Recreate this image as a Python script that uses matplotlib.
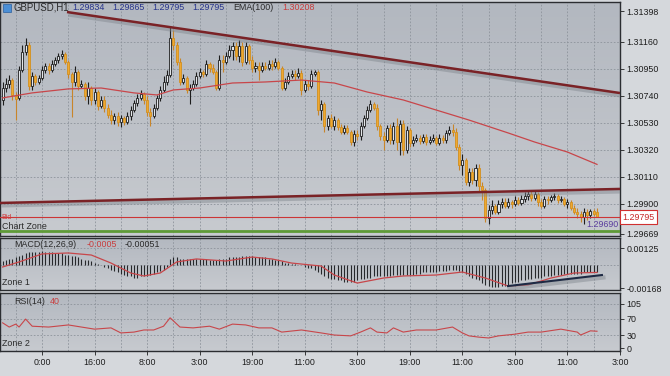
import matplotlib
matplotlib.use("Agg")
import matplotlib.pyplot as plt
import matplotlib.transforms as mtransforms
import numpy as np
from matplotlib.colors import LinearSegmentedColormap

plt.rcParams["font.family"] = ["Liberation Sans", "DejaVu Sans"]

# ---- candles (GBPUSD H1) ----
opens = [
    1.30709, 1.30802, 1.30833, 1.30864, 1.30740, 1.30725, 1.30942, 1.31082, 1.31137, 1.30818,
    1.30896, 1.30849, 1.30880, 1.30942, 1.30973, 1.30942, 1.30989, 1.31020, 1.31051, 1.31067,
    1.31004, 1.30911, 1.30849, 1.30927, 1.30818, 1.30833, 1.30740, 1.30802, 1.30709, 1.30771,
    1.30662, 1.30709, 1.30647, 1.30592, 1.30553, 1.30584, 1.30538, 1.30569, 1.30538, 1.30584,
    1.30631, 1.30686, 1.30725, 1.30756, 1.30709, 1.30616, 1.30584, 1.30647, 1.30725, 1.30787,
    1.30849, 1.30903, 1.31191, 1.31137, 1.31004, 1.30849, 1.30880, 1.30787, 1.30802, 1.30833,
    1.30896, 1.30927, 1.30911, 1.30989, 1.30958, 1.30927, 1.30802, 1.31020, 1.31004, 1.31051,
    1.31098, 1.31129, 1.31051, 1.31129, 1.31004, 1.31129, 1.31020, 1.30958, 1.30973, 1.30942,
    1.30973, 1.30958, 1.30989, 1.30973, 1.31004, 1.30958, 1.30802, 1.30849, 1.30896, 1.30911,
    1.30896, 1.30919, 1.30787, 1.30833, 1.30818, 1.30911, 1.30927, 1.30631, 1.30678, 1.30507,
    1.30569, 1.30507, 1.30553, 1.30499, 1.30460, 1.30491, 1.30460, 1.30382, 1.30445, 1.30429,
    1.30507, 1.30569, 1.30631, 1.30678, 1.30647, 1.30507, 1.30429, 1.30398, 1.30491, 1.30398,
    1.30507, 1.30382, 1.30522, 1.30320, 1.30476, 1.30374, 1.30398, 1.30413, 1.30390, 1.30421,
    1.30382, 1.30398, 1.30413, 1.30374, 1.30413, 1.30398, 1.30452, 1.30476, 1.30460, 1.30343,
    1.30203, 1.30242, 1.30071, 1.30149, 1.30087, 1.30180, 1.30040, 1.30009, 1.29791, 1.29853,
    1.29884, 1.29838, 1.29900, 1.29916, 1.29884, 1.29916, 1.29900, 1.29931, 1.29908, 1.29939,
    1.29962, 1.29978, 1.29947, 1.29978, 1.29916, 1.29884, 1.29939, 1.29931, 1.29954, 1.29962,
    1.29931, 1.29939, 1.29900, 1.29916, 1.29869, 1.29838, 1.29822, 1.29799, 1.29838, 1.29815,
    1.29846, 1.29834,
]
closes = [
    1.30802, 1.30833, 1.30864, 1.30748, 1.30717, 1.30942, 1.31082, 1.31137, 1.30818, 1.30896,
    1.30849, 1.30880, 1.30942, 1.30973, 1.30942, 1.30989, 1.31020, 1.31051, 1.31067, 1.31004,
    1.30911, 1.30849, 1.30927, 1.30818, 1.30833, 1.30740, 1.30802, 1.30709, 1.30771, 1.30662,
    1.30709, 1.30647, 1.30592, 1.30553, 1.30584, 1.30538, 1.30569, 1.30538, 1.30584, 1.30631,
    1.30686, 1.30725, 1.30756, 1.30709, 1.30616, 1.30584, 1.30647, 1.30725, 1.30787, 1.30849,
    1.30903, 1.31191, 1.31137, 1.31004, 1.30849, 1.30880, 1.30787, 1.30802, 1.30833, 1.30896,
    1.30927, 1.30911, 1.30989, 1.30958, 1.30927, 1.30802, 1.31020, 1.31004, 1.31051, 1.31098,
    1.31129, 1.31051, 1.31129, 1.31004, 1.31129, 1.31020, 1.30958, 1.30973, 1.30942, 1.30973,
    1.30958, 1.30989, 1.30973, 1.31004, 1.30958, 1.30802, 1.30849, 1.30896, 1.30911, 1.30896,
    1.30919, 1.30787, 1.30833, 1.30818, 1.30911, 1.30927, 1.30631, 1.30678, 1.30507, 1.30569,
    1.30507, 1.30553, 1.30499, 1.30460, 1.30491, 1.30460, 1.30382, 1.30445, 1.30429, 1.30507,
    1.30569, 1.30631, 1.30678, 1.30647, 1.30507, 1.30429, 1.30398, 1.30491, 1.30398, 1.30507,
    1.30382, 1.30522, 1.30320, 1.30476, 1.30374, 1.30398, 1.30413, 1.30390, 1.30421, 1.30382,
    1.30398, 1.30413, 1.30374, 1.30413, 1.30398, 1.30452, 1.30476, 1.30460, 1.30343, 1.30203,
    1.30242, 1.30071, 1.30149, 1.30087, 1.30180, 1.30040, 1.30009, 1.29791, 1.29853, 1.29884,
    1.29838, 1.29900, 1.29916, 1.29884, 1.29916, 1.29900, 1.29931, 1.29908, 1.29939, 1.29962,
    1.29978, 1.29947, 1.29978, 1.29916, 1.29884, 1.29939, 1.29931, 1.29954, 1.29962, 1.29931,
    1.29939, 1.29900, 1.29916, 1.29869, 1.29838, 1.29822, 1.29799, 1.29838, 1.29815, 1.29846,
    1.29822, 1.29795,
]
highs = [
    1.30849, 1.30880, 1.30903, 1.30880, 1.30771, 1.30973, 1.31137, 1.31191, 1.31160, 1.30927,
    1.30911, 1.30903, 1.30973, 1.30996, 1.30996, 1.31020, 1.31043, 1.31074, 1.31098, 1.31082,
    1.31020, 1.30927, 1.30973, 1.30942, 1.30864, 1.30849, 1.30849, 1.30818, 1.30802, 1.30787,
    1.30740, 1.30740, 1.30678, 1.30631, 1.30608, 1.30616, 1.30592, 1.30584, 1.30616, 1.30662,
    1.30709, 1.30756, 1.30787, 1.30771, 1.30740, 1.30647, 1.30678, 1.30748, 1.30818, 1.30896,
    1.30942, 1.31284, 1.31253, 1.31160, 1.31036, 1.30911, 1.30896, 1.30833, 1.30864, 1.30927,
    1.30958, 1.30942, 1.31020, 1.31004, 1.30989, 1.30942, 1.31059, 1.31059, 1.31082, 1.31137,
    1.31160, 1.31160, 1.31176, 1.31160, 1.31160, 1.31145, 1.31051, 1.31004, 1.31004, 1.31004,
    1.31004, 1.31020, 1.31020, 1.31036, 1.31020, 1.30973, 1.30880, 1.30927, 1.30942, 1.30942,
    1.30958, 1.30942, 1.30864, 1.30864, 1.30942, 1.30942, 1.30942, 1.30709, 1.30693, 1.30592,
    1.30600, 1.30584, 1.30569, 1.30522, 1.30515, 1.30515, 1.30476, 1.30476, 1.30476, 1.30538,
    1.30592, 1.30662, 1.30709, 1.30693, 1.30678, 1.30522, 1.30460, 1.30515, 1.30522, 1.30538,
    1.30569, 1.30553, 1.30553, 1.30507, 1.30491, 1.30429, 1.30445, 1.30437, 1.30445, 1.30445,
    1.30429, 1.30445, 1.30429, 1.30445, 1.30437, 1.30476, 1.30507, 1.30522, 1.30491, 1.30367,
    1.30289, 1.30258, 1.30180, 1.30180, 1.30211, 1.30211, 1.30071, 1.30024, 1.29892, 1.29931,
    1.29900, 1.29931, 1.29947, 1.29947, 1.29947, 1.29931, 1.29962, 1.29954, 1.29970, 1.29993,
    1.30009, 1.30001, 1.30001, 1.29993, 1.29939, 1.29962, 1.29962, 1.29970, 1.29985, 1.29978,
    1.29962, 1.29954, 1.29939, 1.29931, 1.29892, 1.29869, 1.29846, 1.29869, 1.29861, 1.29861,
    1.29861, 1.29865,
]
lows = [
    1.30670, 1.30771, 1.30802, 1.30709, 1.30553, 1.30709, 1.30927, 1.31059, 1.30787, 1.30787,
    1.30826, 1.30833, 1.30864, 1.30919, 1.30911, 1.30927, 1.30973, 1.30996, 1.31028, 1.30989,
    1.30880, 1.30576, 1.30818, 1.30787, 1.30802, 1.30709, 1.30678, 1.30670, 1.30678, 1.30631,
    1.30647, 1.30616, 1.30569, 1.30522, 1.30522, 1.30507, 1.30499, 1.30515, 1.30522, 1.30553,
    1.30616, 1.30662, 1.30709, 1.30678, 1.30584, 1.30507, 1.30569, 1.30631, 1.30701, 1.30771,
    1.30826, 1.30888, 1.31098, 1.30981, 1.30826, 1.30833, 1.30764, 1.30678, 1.30787, 1.30818,
    1.30880, 1.30888, 1.30896, 1.30927, 1.30911, 1.30787, 1.30787, 1.30927, 1.30989, 1.31036,
    1.31020, 1.31020, 1.31004, 1.30973, 1.30989, 1.30989, 1.30927, 1.30927, 1.30864, 1.30927,
    1.30942, 1.30942, 1.30942, 1.30958, 1.30942, 1.30787, 1.30787, 1.30833, 1.30880, 1.30864,
    1.30880, 1.30748, 1.30771, 1.30787, 1.30802, 1.30896, 1.30592, 1.30553, 1.30460, 1.30476,
    1.30491, 1.30476, 1.30476, 1.30445, 1.30445, 1.30445, 1.30359, 1.30351, 1.30398, 1.30398,
    1.30491, 1.30553, 1.30616, 1.30631, 1.30476, 1.30398, 1.30320, 1.30382, 1.30367, 1.30367,
    1.30320, 1.30281, 1.30281, 1.30297, 1.30343, 1.30351, 1.30382, 1.30367, 1.30374, 1.30359,
    1.30367, 1.30382, 1.30359, 1.30359, 1.30374, 1.30374, 1.30437, 1.30429, 1.30320, 1.30164,
    1.30126, 1.30048, 1.30040, 1.30056, 1.30040, 1.29993, 1.29931, 1.29760, 1.29745, 1.29822,
    1.29822, 1.29822, 1.29869, 1.29869, 1.29869, 1.29869, 1.29884, 1.29892, 1.29892, 1.29916,
    1.29931, 1.29923, 1.29931, 1.29884, 1.29869, 1.29869, 1.29900, 1.29916, 1.29931, 1.29908,
    1.29916, 1.29884, 1.29869, 1.29853, 1.29822, 1.29791, 1.29760, 1.29745, 1.29776, 1.29791,
    1.29807, 1.29795,
]

# EMA(100) (bar index, price)
ema_idx = [0, 9, 20, 30, 40, 47, 52, 60, 70, 80, 91, 101, 111, 122, 132, 142, 154, 162, 172, 181]
ema_val = [1.30725, 1.30764, 1.30795, 1.30802, 1.30764, 1.30748, 1.30787, 1.30802, 1.30841, 1.30849,
           1.30864, 1.30841, 1.30771, 1.30709, 1.30631, 1.30553, 1.30452, 1.30382, 1.30304, 1.30208]

# MACD(12,26,9) histogram, one value per bar
macd_hist = [
    0.0003, 0.0004, 0.0005, 0.0005, 0.0006, 0.0007, 0.0008, 0.0009, 0.0010,
    0.0010, 0.0010, 0.0010, 0.0011, 0.0010, 0.0010, 0.0010, 0.0009, 0.0009,
    0.0009, 0.0008, 0.0008, 0.0007, 0.0007, 0.0006,
    0.0005, 0.0004, 0.0004, 0.0003, 0.0002, 0.0001,
    0.0000, -0.0001, -0.0002,
    -0.0003, -0.0004, -0.0005, -0.0006, -0.0007, -0.0008, -0.0008, -0.0009,
    -0.0009, -0.0008, -0.0008, -0.0008,
    -0.0007, -0.0006, -0.0005, -0.0004, -0.0003, -0.0001,
    0.0005, 0.0006, 0.0006,
    0.0005, 0.0005, 0.0005, 0.0005, 0.0005, 0.0005, 0.0005,
    0.0005, 0.0005, 0.0004, 0.0004, 0.0004, 0.0005, 0.0005, 0.0005, 0.0006, 0.0006, 0.0006, 0.0006, 0.0007,
    0.0007, 0.0007, 0.0007, 0.0006, 0.0006, 0.0006, 0.0006,
    0.0005, 0.0005, 0.0004, 0.0004, 0.0003, 0.0002,
    0.0002, 0.0001, 0.0001, 0.0000, 0.0000,
    -0.0001, -0.0002, -0.0002, -0.0003,
    -0.0005, -0.0006, -0.0008, -0.0009, -0.0010, -0.0010,
    -0.0011, -0.0011, -0.0012, -0.0012, -0.0012, -0.0012, -0.0011,
    -0.0010, -0.0010, -0.0009, -0.0009, -0.0008, -0.0008, -0.0008,
    -0.0008, -0.0008, -0.0008, -0.0007, -0.0007, -0.0007, -0.0007, -0.0007, -0.0007, -0.0007, -0.0006, -0.0006,
    -0.0005, -0.0005, -0.0005, -0.0005, -0.0005, -0.0004, -0.0004, -0.0004, -0.0003,
    -0.0003, -0.0003, -0.0004,
    -0.0005, -0.0006, -0.0008, -0.0009, -0.0010, -0.0011,
    -0.0013, -0.0014, -0.0015, -0.0016, -0.0016, -0.0016, -0.0015,
    -0.0015, -0.0014, -0.0013, -0.0012, -0.0012, -0.0011,
    -0.0011, -0.0010, -0.0010, -0.0009, -0.0009, -0.0009, -0.0008, -0.0008, -0.0008,
    -0.0007, -0.0007, -0.0007, -0.0006, -0.0006, -0.0006, -0.0006, -0.0006, -0.0006, -0.0005,
    -0.0005, -0.0005, -0.0005, -0.0005,
]
signal_idx = [0, 5, 12, 20, 27, 33, 39, 43, 48, 53, 59, 68, 76, 82, 88, 97, 101, 108,
              116, 122, 132, 140, 147, 154, 160, 167, 174, 181]
signal_val = [-0.00011, 0.00026, 0.00085, 0.00092, 0.00077, 0.00018, -0.00055, -0.00077, -0.00055,
              0.00026, 0.00048, 0.00033, 0.00062, 0.00048, 0.00018, -0.00004, -0.00070, -0.00129,
              -0.00092, -0.00077, -0.00070, -0.00048, -0.00092, -0.00151, -0.00143, -0.00092,
              -0.00055, -0.00051]
macd_trend_idx = [153.9, 182.5]
macd_trend_val = [-0.00151, -0.00070]

# RSI(14)
rsi_idx = [0, 2, 4, 5, 7, 9, 14, 20, 24, 28, 33, 36, 40, 43, 46, 49, 51, 54, 58, 63, 66,
           70, 74, 78, 82, 85, 91, 97, 101, 106, 109, 112, 114, 117, 119, 122, 126, 132,
           137, 140, 142, 145, 148, 151, 156, 160, 164, 170, 175, 176, 179, 181]
rsi_val = [60, 50, 57, 50, 69, 52, 50, 55, 50, 45, 48, 36, 38, 43, 43, 52, 72, 50, 48, 52, 45,
           57, 55, 48, 48, 38, 43, 36, 31, 29, 38, 48, 38, 36, 48, 38, 43, 43,
           50, 36, 29, 26, 24, 29, 33, 38, 38, 45, 38, 31, 41, 40]

# levels and trend lines on the price panel
bid_price = 1.29795
low_price = 1.29690
upper_trend_idx = [19.6, 188.0]
upper_trend_val = [1.31393, 1.30763]
lower_trend_idx = [-0.8, 188.0]
lower_trend_val = [1.29908, 1.30017]

price_ticks = [1.31398, 1.31160, 1.30950, 1.30740, 1.30530, 1.30320, 1.30110, 1.29900, 1.29669]
macd_ticks = [0.00125, -0.00168]
rsi_ticks = [105, 70, 30, 0]
time_labels = ["0:00", "16:00", "8:00", "3:00", "19:00", "11:00", "3:00", "19:00",
               "11:00", "3:00", "11:00", "3:00"]

assert len(opens) == len(closes) == len(highs) == len(lows) == len(macd_hist)

W, H = 670, 376
FS = 6.4
x = np.arange(len(closes))
XMIN, XMAX = -0.8, 188.0

fig = plt.figure(figsize=(W / 100, H / 100), dpi=100)
fig.patch.set_facecolor("#d5d8dc")


def panel(top_px, bottom_px):
    ax = fig.add_axes([0, 1 - bottom_px / H, 620 / W, (bottom_px - top_px) / H])
    cmap = LinearSegmentedColormap.from_list("bg", ["#c7cacf", "#b3b8c0"])
    ax.imshow(np.linspace(0, 1, 64).reshape(-1, 1), cmap=cmap, origin="lower",
              extent=[0, 1, 0, 1], transform=ax.transAxes, aspect="auto", zorder=0)
    ax.set_xlim(XMIN, XMAX)
    for s in ax.spines.values():
        s.set_color("#2b2d31")
        s.set_linewidth(1.0)
    ax.yaxis.tick_right()
    ax.tick_params(axis="y", labelsize=FS, length=3, pad=1.5, colors="#1e1e1e", width=0.6)
    ax.tick_params(axis="x", bottom=False, labelbottom=False)
    for gx in np.arange(4, XMAX, 8):
        ax.axvline(gx, color="#8d939b", lw=0.6, ls=(0, (2, 2)), zorder=1)
    return ax


ax = panel(2, 236)
ax_m = panel(238, 290)
ax_r = panel(293, 351)

# ---- price panel ----
ax.set_ylim(1.29651, 1.31471)
for p in price_ticks[1:-1]:
    ax.axhline(p, color="#8d939b", lw=0.6, ls=(0, (2, 2)), zorder=1)
ax.set_yticks(price_ticks)
ax.set_yticklabels([f"{p:.5f}" for p in price_ticks])

o = np.array(opens)
c = np.array(closes)
up = c >= o
wick_col = np.where(up, "#1d1d1d", "#c8852a")
ax.vlines(x, lows, highs, colors=wick_col, lw=0.8, zorder=3)
body = np.where(np.abs(c - o) < 0.00003, 0.00003, c - o)
ax.bar(x[up], body[up], bottom=o[up], width=0.62, color="#e2e5e9", edgecolor="#1d1d1d",
       linewidth=0.6, zorder=4)
ax.bar(x[~up], body[~up], bottom=o[~up], width=0.62, color="#f0a830", edgecolor="#d2901f",
       linewidth=0.6, zorder=4)

ax.plot(ema_idx, ema_val, color="#c8464a", lw=0.9, zorder=5)

shadow = mtransforms.offset_copy(ax.transData, fig=fig, x=1.5, y=-2.5, units="dots")
for tx, ty in ((upper_trend_idx, upper_trend_val), (lower_trend_idx, lower_trend_val)):
    ax.plot(tx, ty, color="#7f858c", lw=3.0, alpha=0.45, transform=shadow, zorder=5,
            solid_capstyle="butt")
    ax.plot(tx, ty, color="#7a2226", lw=1.8, zorder=6, solid_capstyle="butt")

ax.axhline(bid_price, color="#cc3535", lw=0.8, zorder=6)
ax.axhline(low_price, color="#5e9a37", lw=2.0, zorder=6)

blend = mtransforms.blended_transform_factory(ax.transAxes, ax.transData)
ax.text(1.004, bid_price, f"{bid_price:.5f}", transform=blend, fontsize=FS, color="#c62828",
        va="center", ha="left", zorder=10, clip_on=False,
        bbox=dict(boxstyle="square,pad=0.28", fc="white", ec="#d03030", lw=0.8))
ax.text(0.997, low_price + 0.00012, f"{low_price:.5f}", transform=blend, fontsize=FS,
        color="#5b3d9e", va="bottom", ha="right", zorder=10)
ax.text(0.003, bid_price + 0.00002, "Bid", transform=blend, fontsize=5.0, color="#d03a3a",
        va="center", ha="left", zorder=10)
ax.text(0.003, low_price + 0.00001, "Chart Zone", transform=blend, fontsize=FS,
        color="#2a2a2a", va="bottom", ha="left", zorder=10)

# header
fig.patches.append(plt.Rectangle((3 / W, 1 - 12 / H), 8 / W, 8 / H, transform=fig.transFigure,
                                 fc="#4b8fd6", ec="#2c5f9c", lw=0.5, zorder=10))
hy = 1 - 7.5 / H
fig.text(14 / W, hy, "GBPUSD,H1", fontsize=6.9, color="#2a2a2a", va="center")
last = [opens[-1], highs[-1], lows[-1], closes[-1]]
for k, v in enumerate(last):
    fig.text((72 + 40 * k) / W, hy, f"{v:.5f}", fontsize=FS, color="#27348b", va="center")
fig.text(233 / W, hy, "EMA(100)", fontsize=FS, color="#2a2a2a", va="center")
fig.text(282 / W, hy, f"{ema_val[-1]:.5f}", fontsize=FS, color="#c83c3c", va="center")

# ---- MACD panel ----
ax_m.set_ylim(-0.0018, 0.00202)
ax_m.axhline(0, color="#8d939b", lw=0.6, ls=(0, (2, 2)), zorder=1)
ax_m.axhline(macd_ticks[0], color="#8d939b", lw=0.6, ls=(0, (2, 2)), zorder=1)
ax_m.vlines(x, 0, macd_hist, colors="#26282b", lw=0.8, zorder=3)
ax_m.plot(signal_idx, signal_val, color="#c8464a", lw=0.9, zorder=4)
shadow_m = mtransforms.offset_copy(ax_m.transData, fig=fig, x=1.5, y=-2.5, units="dots")
ax_m.plot(macd_trend_idx, macd_trend_val, color="#7f858c", lw=3.0, alpha=0.45,
          transform=shadow_m, zorder=5)
ax_m.plot(macd_trend_idx, macd_trend_val, color="#1e2a44", lw=1.5, zorder=6)
ax_m.set_yticks(macd_ticks)
ax_m.set_yticklabels([f"{v:.5f}" for v in macd_ticks])
my = 1 - 245 / H
fig.text(14 / W, my, "MACD(12,26,9)", fontsize=FS, color="#2a2a2a", va="center")
fig.text(87 / W, my, f"{macd_hist[-1]:.4f}", fontsize=FS, color="#c83c3c", va="center")
fig.text(125 / W, my, f"{signal_val[-1]:.5f}", fontsize=FS, color="#2a2a2a", va="center")
ax_m.text(0.004, 0.06, "Zone 1", transform=ax_m.transAxes, fontsize=FS, color="#2a2a2a",
          va="bottom", ha="left")

# ---- RSI panel ----
ax_r.set_ylim(-7, 131)
for lv in rsi_ticks[:-1]:
    ax_r.axhline(lv, color="#8d939b", lw=0.6, ls=(0, (2, 2)), zorder=1)
ax_r.plot(rsi_idx, rsi_val, color="#c8464a", lw=0.8, zorder=4)
ax_r.set_yticks(rsi_ticks)
ax_r.set_yticklabels([str(v) for v in rsi_ticks])
ry = 1 - 301 / H
fig.text(14 / W, ry, "RSI(14)", fontsize=FS, color="#2a2a2a", va="center")
fig.text(50 / W, ry, str(rsi_val[-1]), fontsize=FS, color="#c83c3c", va="center")
ax_r.text(0.004, 0.05, "Zone 2", transform=ax_r.transAxes, fontsize=FS, color="#2a2a2a",
          va="bottom", ha="left")

label_pos = np.arange(12, XMAX + 1, 16)
ax_r.set_xticks(label_pos)
ax_r.set_xticklabels(time_labels)
ax_r.tick_params(axis="x", bottom=True, labelbottom=True, labelsize=FS, length=3, pad=2,
                 colors="#1e1e1e", width=0.6)

fig.savefig("out.png", dpi=100, facecolor=fig.get_facecolor())
